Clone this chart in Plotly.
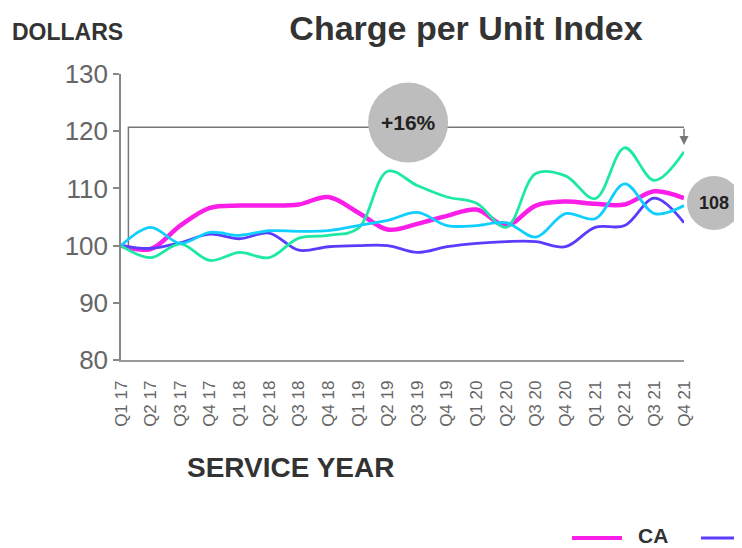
import plotly.graph_objects as go

quarters = ["Q1 17", "Q2 17", "Q3 17", "Q4 17", "Q1 18", "Q2 18", "Q3 18", "Q4 18",
            "Q1 19", "Q2 19", "Q3 19", "Q4 19", "Q1 20", "Q2 20", "Q3 20", "Q4 20",
            "Q1 21", "Q2 21", "Q3 21", "Q4 21"]
ca = [100, 99.4, 103.5, 106.6, 107, 107, 107.2, 108.5, 105.8, 102.8,
      103.8, 105.2, 106.3, 103.5, 107, 107.7, 107.3, 107.2, 109.5, 108.3]
blue = [100, 99.5, 100.5, 102, 101.2, 102.2, 99.2, 99.8, 100, 100,
        98.8, 99.8, 100.4, 100.7, 100.7, 99.8, 103.2, 103.5, 108.3, 104]
green = [100, 97.9, 100.3, 97.4, 98.8, 97.9, 101.3, 101.8, 103, 113,
         110.5, 108.5, 107.4, 103.2, 112.6, 112.2, 108.2, 117.1, 111.4, 116.4]
cyan = [100, 103.2, 100.4, 102.3, 101.8, 102.6, 102.5, 102.6, 103.5, 104.4,
        105.8, 103.5, 103.5, 104, 101.5, 105.6, 104.7, 110.8, 105.6, 107]

series = [
    ("CA", ca, "#fa1ee8", 4.5),
    ("Series B", blue, "#5a3cff", 2.8),
    ("Series C", green, "#1de9a4", 2.8),
    ("Series D", cyan, "#10cfff", 2.8),
]

FONT = "Arial, Liberation Sans, sans-serif"
OFF = 8  # page body margin
W, H = 742, 548
PL, PR, PT, PB = 121, 684, 74, 360  # plot area in screen pixels


def px(sx):
    return (sx - PL) / (PR - PL)


def py(sy):
    return (PB - sy) / (PB - PT)


fig = go.Figure()
for name, vals, color, w in series:
    fig.add_trace(go.Scatter(x=quarters, y=vals, mode="lines", name=name,
                             line=dict(color=color, width=w, shape="spline", smoothing=1),
                             showlegend=False))

growth = round((green[-1] - green[0]) / green[0] * 100)
bracket_y = 120.7
badge_y = 121.5
leg_line_y = py(538)
leg_text_y = py(535)

shapes = [
    dict(type="path", xref="x", yref="y",
         path=f"M 0.25,{green[0]} L 0.25,{bracket_y} L 19,{bracket_y}",
         line=dict(color="#777", width=1.5), layer="below"),
    dict(type="circle", xref="x", yref="y", xsizemode="pixel", ysizemode="pixel",
         xanchor=9.69, yanchor=badge_y, x0=-40, x1=40, y0=-40, y1=40,
         fillcolor="#bdbdbd", line=dict(width=0)),
    dict(type="circle", xref="paper", yref="paper", xsizemode="pixel", ysizemode="pixel",
         xanchor=px(714), yanchor=py(203), x0=-27, x1=27, y0=-27, y1=27,
         fillcolor="#bdbdbd", line=dict(width=0)),
    dict(type="line", xref="paper", yref="paper", x0=px(572), x1=px(622),
         y0=leg_line_y, y1=leg_line_y, line=dict(color="#fa1ee8", width=4)),
    dict(type="line", xref="paper", yref="paper", x0=px(701), x1=px(760),
         y0=leg_line_y, y1=leg_line_y, line=dict(color="#5a3cff", width=3)),
]

annotations = [
    dict(x=19, y=green[-1] + 1.2, xref="x", yref="y", ax=19, ay=bracket_y, axref="x", ayref="y",
         text="", showarrow=True, arrowhead=2, arrowsize=1.2, arrowwidth=1.5, arrowcolor="#777"),
    dict(x=9.69, y=badge_y, xref="x", yref="y", xanchor="center", yanchor="middle",
         text=f"<b>+{growth}%</b>", showarrow=False,
         font=dict(family=FONT, size=21, color="#222")),
    dict(x=px(714), y=py(203), xref="paper", yref="paper", xanchor="center", yanchor="middle",
         text=f"<b>{round(ca[-1])}</b>", showarrow=False, font=dict(family=FONT, size=18, color="#222")),
    dict(x=px(10), y=py(32), xref="paper", yref="paper", xanchor="left",
         yanchor="middle", text="<b>DOLLARS</b>", showarrow=False,
         font=dict(family=FONT, size=23, color="#333")),
    dict(x=px(290), y=py(468), xref="paper", yref="paper", xanchor="center",
         yanchor="middle", text="<b>SERVICE YEAR</b>", showarrow=False,
         font=dict(family=FONT, size=28, color="#333")),
    dict(x=px(636), y=leg_text_y, xref="paper", yref="paper", xanchor="left",
         yanchor="middle", text="<b>CA</b>", showarrow=False,
         font=dict(family=FONT, size=21, color="#333")),
]

fig.update_layout(
    width=W, height=H,
    margin=dict(l=PL - OFF, r=W - (PR - OFF), t=PT - OFF, b=H - (PB - OFF)),
    paper_bgcolor="white", plot_bgcolor="white",
    title=dict(text="<b>Charge per Unit Index</b>", x=(466 - OFF) / W, xref="container",
               y=1 - (28 - OFF) / H, yref="container", xanchor="center", yanchor="middle",
               font=dict(family=FONT, size=34, color="#333")),
    shapes=shapes, annotations=annotations,
    xaxis=dict(type="category", range=[0, 19], showgrid=False, zeroline=False,
               showline=True, linecolor="#999", linewidth=1.5, ticks="",
               tickangle=-90, ticklabelstandoff=12,
               tickfont=dict(family=FONT, size=17, color="#666")),
    yaxis=dict(range=[80, 130], tickvals=[80, 90, 100, 110, 120, 130], showgrid=False,
               zeroline=False, showline=True, linecolor="#888", linewidth=1.5,
               ticks="outside", ticklen=6, tickcolor="#888", tickwidth=1.5,
               tickfont=dict(family=FONT, size=26, color="#666")),
)

fig.write_html("out.html")
